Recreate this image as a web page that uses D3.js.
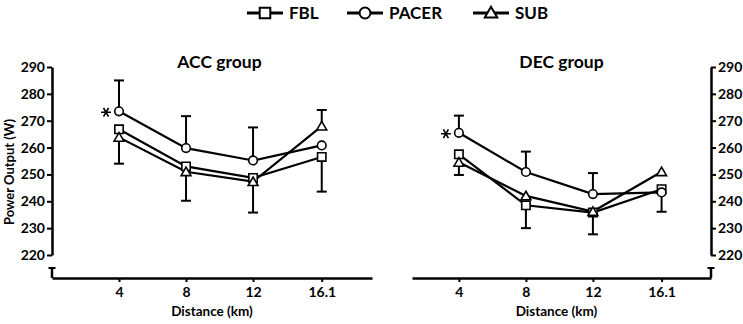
<!DOCTYPE html>
<html>
<head>
<meta charset="utf-8">
<script src="https://cdn.jsdelivr.net/npm/d3@7"></script>
<style>
  body { margin: 0; background: #fff; }
  text { font-family: Lato, "Open Sans", sans-serif; font-weight: bold; fill: #000; }
</style>
</head>
<body>
<div id="chart"></div>
<script>
// data
var distances = [4, 8, 12, 16.1];
var xTickLabels = ["4", "8", "12", "16.1"];
var yTicks = [220, 230, 240, 250, 260, 270, 280, 290];
var seriesNames = ["FBL", "PACER", "SUB"];

var accFBL   = [266.8, 253.0, 248.7, 256.5];
var accPACER = [273.5, 259.8, 255.2, 260.8];
var accSUB   = [263.8, 251.0, 247.3, 268.0];
// signed error bars: + drawn up, - drawn down, null = hidden
var accFBLerr   = [null, null, null, -12.9];
var accPACERerr = [11.5, 11.9, 12.3, null];
var accSUBerr   = [-9.8, -10.8, -11.5, 6.0];

var decFBL   = [257.5, 238.5, 235.8, 244.5];
var decPACER = [265.5, 250.9, 242.7, 243.3];
var decSUB   = [254.5, 242.0, 236.2, 251.0];
var decFBLerr   = [null, -8.5, -8.1, null];
var decPACERerr = [6.4, 7.6, 7.8, -7.2];
var decSUBerr   = [-4.7, null, null, null];

var W = 743, H = 324;
var svg = d3.select("#chart").append("svg")
  .attr("width", W).attr("height", H);

var symbols = {FBL: d3.symbolSquare, PACER: d3.symbolCircle, SUB: d3.symbolTriangle};
var symSize = {FBL: 70, PACER: 58, SUB: 42};

function drawPanel(opt) {
  var x = d3.scaleLinear().domain(opt.xDomain).range(opt.xRange);
  var y = d3.scaleLinear().domain([220, 290]).range([255, 67]);
  var g = svg.append("g");
  var axisX = opt.side == "left" ? opt.xRange[0] : opt.xRange[1];
  var xAxisY = 278;

  // y axis
  var yAxis = g.append("g").attr("transform", "translate(" + axisX + ",0)")
    .call((opt.side == "left" ? d3.axisLeft(y) : d3.axisRight(y))
      .tickValues(yTicks).tickSize(5).tickSizeOuter(0).tickPadding(2));
  yAxis.select(".domain").attr("stroke-width", 2.5);
  yAxis.selectAll("line").attr("stroke-width", 2);
  yAxis.selectAll("text").style("font-size", "14px");

  // broken segment of y axis
  g.append("line").attr("x1", axisX).attr("x2", axisX)
    .attr("y1", 268).attr("y2", xAxisY).attr("stroke", "#000").attr("stroke-width", 2.5);
  g.append("line").attr("x1", axisX - 3.5).attr("x2", axisX + 3.5)
    .attr("y1", 268).attr("y2", 268).attr("stroke", "#000").attr("stroke-width", 2);

  // x axis
  var xAxis = g.append("g").attr("transform", "translate(0," + xAxisY + ")")
    .call(d3.axisBottom(x).tickValues(distances)
      .tickFormat(function(d, i) { return xTickLabels[i]; })
      .tickSize(4).tickSizeOuter(0).tickPadding(5));
  xAxis.select(".domain").attr("stroke-width", 2.5);
  xAxis.selectAll("line").attr("stroke-width", 2);
  xAxis.selectAll("text").style("font-size", "14px");

  g.append("text").attr("x", (opt.xRange[0] + opt.xRange[1]) / 2 + opt.labelShift).attr("y", 316)
    .attr("text-anchor", "middle").style("font-size", "13.5px").text("Distance (km)");

  g.append("text").attr("x", opt.titleX).attr("y", 68)
    .attr("text-anchor", "middle").style("font-size", "17.5px").text(opt.title);

  var line = d3.line().x(function(d) { return x(d.x); }).y(function(d) { return y(d.v); });

  opt.series.forEach(function(s) {
    var pts = distances.map(function(d, i) { return {x: d, v: s.values[i], e: s.err[i]}; });
    // error bars
    pts.forEach(function(p) {
      if (p.e == null) return;
      var end = p.v + p.e;
      g.append("line").attr("x1", x(p.x)).attr("x2", x(p.x))
        .attr("y1", y(p.v)).attr("y2", y(end)).attr("stroke", "#000").attr("stroke-width", 2);
      g.append("line").attr("x1", x(p.x) - 5).attr("x2", x(p.x) + 5)
        .attr("y1", y(end)).attr("y2", y(end)).attr("stroke", "#000").attr("stroke-width", 2);
    });
  });

  opt.series.forEach(function(s) {
    var pts = distances.map(function(d, i) { return {x: d, v: s.values[i]}; });
    g.append("path").datum(pts).attr("fill", "none").attr("stroke", "#000")
      .attr("stroke-width", 2.2).attr("d", line);
  });

  opt.series.forEach(function(s) {
    var pts = distances.map(function(d, i) { return {x: d, v: s.values[i]}; });
    g.selectAll(null).data(pts).enter().append("path")
      .attr("transform", function(d) {
        var dy = s.name == "SUB" ? 1 : 0;
        return "translate(" + x(d.x) + "," + (y(d.v) + dy) + ")";
      })
      .attr("d", d3.symbol().type(symbols[s.name]).size(symSize[s.name]))
      .attr("fill", "#fff").attr("stroke", "#000").attr("stroke-width", 1.6);
  });

  // significance marker next to PACER at 4 km
  var pacer = opt.series[1];
  g.append("path")
    .attr("transform", "translate(" + (x(distances[0]) - 13) + "," + (y(pacer.values[0]) + 1) + ") rotate(90)")
    .attr("d", d3.symbol().type(d3.symbolAsterisk).size(70))
    .attr("fill", "none").attr("stroke", "#000").attr("stroke-width", 1.6);
}

drawPanel({
  side: "left", xDomain: [0, 19.1], xRange: [52, 372], title: "ACC group", titleX: 219.5, labelShift: 0,
  series: [
    {name: "FBL", values: accFBL, err: accFBLerr},
    {name: "PACER", values: accPACER, err: accPACERerr},
    {name: "SUB", values: accSUB, err: accSUBerr}
  ]
});

drawPanel({
  side: "right", xDomain: [1.2, 19.05], xRange: [412, 711], title: "DEC group", titleX: 561.5, labelShift: -5,
  series: [
    {name: "FBL", values: decFBL, err: decFBLerr},
    {name: "PACER", values: decPACER, err: decPACERerr},
    {name: "SUB", values: decSUB, err: decSUBerr}
  ]
});

// y axis title
svg.append("text").attr("transform", "translate(14,172) rotate(-90)")
  .attr("text-anchor", "middle").style("font-size", "13px").text("Power Output (W)");

// legend
var legendX = [247, 347, 473];
var legend = svg.append("g");
seriesNames.forEach(function(n, i) {
  var lg = legend.append("g").attr("transform", "translate(" + legendX[i] + ",13)");
  lg.append("line").attr("x1", 0).attr("x2", 36).attr("stroke", "#000").attr("stroke-width", 2.8);
  lg.append("path").attr("transform", "translate(18," + (n == "SUB" ? 1 : 0) + ")")
    .attr("d", d3.symbol().type(symbols[n]).size(symSize[n] * 1.6))
    .attr("fill", "#fff").attr("stroke", "#000").attr("stroke-width", 2);
  lg.append("text").attr("x", 42).attr("y", 6).style("font-size", "17px").text(n);
});
</script>
</body>
</html>
